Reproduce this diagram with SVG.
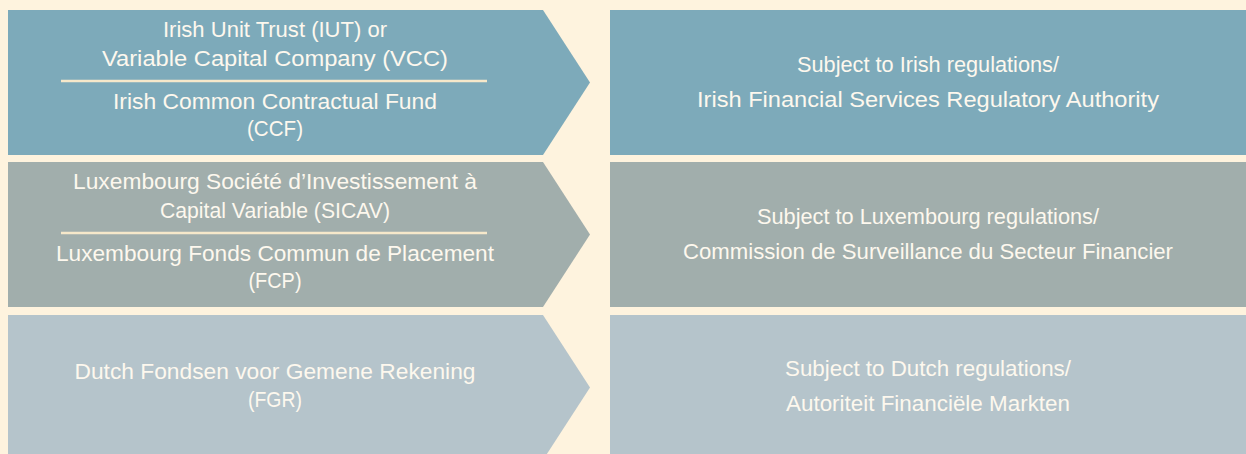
<svg xmlns="http://www.w3.org/2000/svg" width="1246" height="454" viewBox="0 0 1246 454">
  <style>
    .t { font-family: "Liberation Sans", Arial, sans-serif; font-size: 22px; fill: #FDF8EE; text-anchor: middle; }
    .sep { stroke: #F6E8CA; stroke-width: 2.5; }
    .r1 { fill: #7DAABA; }
    .r2 { fill: #A1AEAC; }
    .r3 { fill: #B5C4CB; }
  </style>
  <rect x="0" y="0" width="1246" height="454" fill="#FEF3DE"/>
  <g id="irish-fund">
    <polygon class="r1" points="8,10 543,10 590,82.5 543,155 8,155"/>
    <text class="t" x="275" y="37" textLength="224" lengthAdjust="spacingAndGlyphs">Irish Unit Trust (IUT) or</text>
    <text class="t" x="275" y="65.5" textLength="346" lengthAdjust="spacingAndGlyphs">Variable Capital Company (VCC)</text>
    <line class="sep" x1="61" y1="81" x2="487" y2="81"/>
    <text class="t" x="275" y="108.5" textLength="324" lengthAdjust="spacingAndGlyphs">Irish Common Contractual Fund</text>
    <text class="t" x="275" y="135.5" textLength="56" lengthAdjust="spacingAndGlyphs">(CCF)</text>
  </g>
  <g id="irish-regulator">
    <rect class="r1" x="610" y="10" width="636" height="145"/>
    <text class="t" x="928" y="72" textLength="262" lengthAdjust="spacingAndGlyphs">Subject to Irish regulations/</text>
    <text class="t" x="928" y="106.5" textLength="462" lengthAdjust="spacingAndGlyphs">Irish Financial Services Regulatory Authority</text>
  </g>
  <g id="luxembourg-fund">
    <polygon class="r2" points="8,162 543,162 590,234.5 543,307 8,307"/>
    <text class="t" x="275" y="189" textLength="404" lengthAdjust="spacingAndGlyphs">Luxembourg Société d’Investissement à</text>
    <text class="t" x="275" y="217.5" textLength="230" lengthAdjust="spacingAndGlyphs">Capital Variable (SICAV)</text>
    <line class="sep" x1="61" y1="233" x2="487" y2="233"/>
    <text class="t" x="275" y="260.5" textLength="438" lengthAdjust="spacingAndGlyphs">Luxembourg Fonds Commun de Placement</text>
    <text class="t" x="275" y="288" textLength="53" lengthAdjust="spacingAndGlyphs">(FCP)</text>
  </g>
  <g id="luxembourg-regulator">
    <rect class="r2" x="610" y="162" width="636" height="145"/>
    <text class="t" x="928" y="223.5" textLength="342" lengthAdjust="spacingAndGlyphs">Subject to Luxembourg regulations/</text>
    <text class="t" x="928" y="258.5" textLength="490" lengthAdjust="spacingAndGlyphs">Commission de Surveillance du Secteur Financier</text>
  </g>
  <g id="dutch-fund">
    <polygon class="r3" points="8,315 543,315 590,387.5 543,460 8,460"/>
    <text class="t" x="275" y="379" textLength="401" lengthAdjust="spacingAndGlyphs">Dutch Fondsen voor Gemene Rekening</text>
    <text class="t" x="275" y="406.5" textLength="54" lengthAdjust="spacingAndGlyphs">(FGR)</text>
  </g>
  <g id="dutch-regulator">
    <rect class="r3" x="610" y="315" width="636" height="145"/>
    <text class="t" x="928" y="376" textLength="286" lengthAdjust="spacingAndGlyphs">Subject to Dutch regulations/</text>
    <text class="t" x="928" y="411" textLength="284" lengthAdjust="spacingAndGlyphs">Autoriteit Financiële Markten</text>
  </g>
  <g id="connectors"></g>
</svg>
